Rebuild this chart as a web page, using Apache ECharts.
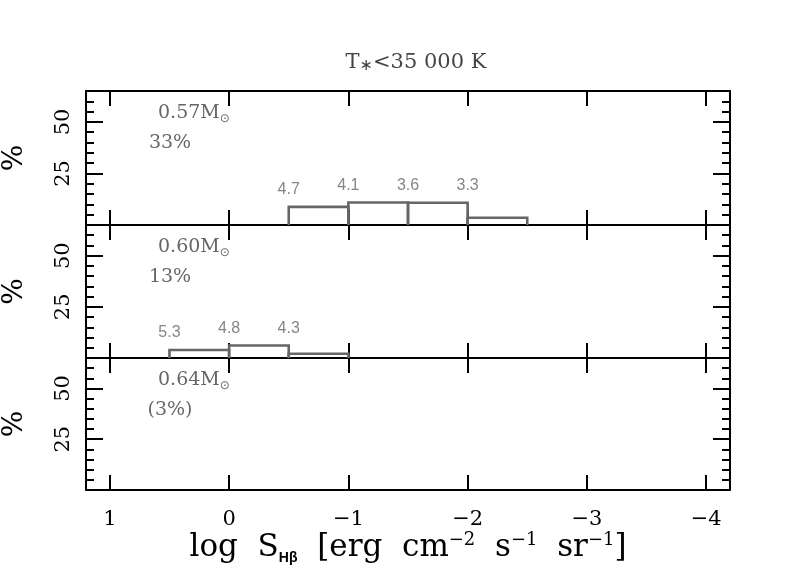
<!DOCTYPE html>
<html>
<head>
<meta charset="utf-8">
<script src="https://cdn.jsdelivr.net/npm/echarts@6/dist/echarts.min.js"></script>
<style>
  html, body { margin: 0; padding: 0; background: #fff; }
  #main { width: 797px; height: 575px; }
</style>
</head>
<body>
<div id="main"></div>
<script>
// 0.57 Msun 面板：bin 边界、百分比、bin 平均值
var edges57 = [-0.5, -1, -1.5, -2, -2.5];
var pct57 = [8.8, 10.9, 10.8, 3.5];
var mean57 = ['4.7', '4.1', '3.6', '3.3'];

// 0.60 Msun 面板
var edges60 = [0.5, 0, -0.5, -1];
var pct60 = [3.9, 6.1, 2.1];
var mean60 = ['5.3', '4.8', '4.3'];

// 0.64 Msun 面板（空）
var edges64 = [];
var pct64 = [];
var mean64 = [];

var massLabels = ['0.57', '0.60', '0.64'];
var shareLabels = ['33%', '13%', '(3%)'];
var yTickLabels = [25, 50];

var panels = [
  { edges: edges57, pct: pct57, mean: mean57 },
  { edges: edges60, pct: pct60, mean: mean60 },
  { edges: edges64, pct: pct64, mean: mean64 }
];

var SERIF = '"DejaVu Serif", "Liberation Serif", serif';
var SANS = '"Liberation Sans", "DejaVu Sans", sans-serif';
var GREY = '#666';

var gridTops = [91, 225, 358];
var gridHeights = [134, 133, 132];

function minus(v) {
  return String(v).replace('-', '\u2212');
}

// 画直方图的轮廓
function renderBins(params, api) {
  var x0 = api.value(0), x1 = api.value(1), h = api.value(2);
  var a = api.coord([x0, 0]);
  var b = api.coord([x1, h]);
  return {
    type: 'polyline',
    shape: { points: [[a[0], a[1]], [a[0], b[1]], [b[0], b[1]], [b[0], a[1]]] },
    style: { fill: null, stroke: GREY, lineWidth: 2.6 }
  };
}

var grid = [], xAxis = [], yAxis = [], series = [], graphic = [];

panels.forEach(function (p, i) {
  grid.push({ left: 86, right: 67, top: gridTops[i], height: gridHeights[i], outerBoundsMode: 'none', containLabel: false });

  var last = i === panels.length - 1;
  ['bottom', 'top'].forEach(function (pos) {
    var ax = {
      gridIndex: i,
      type: 'value',
      position: pos,
      min: -4.2,
      max: 1.2,
      minInterval: 1,
      maxInterval: 1,
      inverse: true,
      axisLine: { show: true, onZero: false, lineStyle: { color: '#000', width: 2 } },
      axisTick: { show: true, inside: true, length: 15, lineStyle: { color: '#000', width: 2 } },
      splitLine: { show: false },
      axisLabel: { show: false }
    };
    if (last && pos === 'bottom') {
      ax.axisLabel = {
        show: true,
        margin: 19,
        color: '#000',
        fontSize: 21,
        fontFamily: SERIF,
        showMinLabel: false,
        showMaxLabel: false,
        formatter: function (v) {
          return Math.abs(v - Math.round(v)) < 1e-6 ? minus(Math.round(v)) : '';
        }
      };
      ax.name = '{t|log  S}{sub|H\u03b2}{t|  [erg  cm}{sup|\u22122}{t|  s}{sup|\u22121}{t|  sr}{sup|\u22121}{t|]}';
      ax.nameLocation = 'middle';
      ax.nameGap = 37;
      ax.nameTextStyle = {
        rich: {
          t: { fontSize: 31, fontFamily: SERIF, color: '#000', lineHeight: 34 },
          sub: { fontSize: 14, fontFamily: SANS, fontWeight: 'bold', color: '#000', verticalAlign: 'bottom', lineHeight: 8 },
          sup: { fontSize: 18, fontFamily: SERIF, color: '#000', verticalAlign: 'top', lineHeight: 16 }
        }
      };
    }
    xAxis.push(ax);
  });

  // 左右两侧：大刻度(25) 和 小刻度(5)
  ['left', 'right'].forEach(function (pos) {
    yAxis.push({
      gridIndex: i,
      type: 'value',
      position: pos,
      min: 0,
      max: 65,
      interval: 25,
      axisLine: { show: true, onZero: false, lineStyle: { color: '#000', width: 2 } },
      axisTick: { show: true, inside: true, length: 17, lineStyle: { color: '#000', width: 2 } },
      splitLine: { show: false },
      axisLabel: pos === 'left' ? {
        show: true,
        rotate: 90,
        margin: 12,
        color: '#000',
        fontSize: 21,
        fontFamily: SERIF,
        formatter: function (v) { return yTickLabels.indexOf(v) >= 0 ? String(v) : ''; }
      } : { show: false },
      name: pos === 'left' ? '%' : '',
      nameLocation: 'middle',
      nameRotate: 90,
      nameGap: 57,
      nameTextStyle: { fontSize: 28, fontFamily: SERIF, color: '#000' }
    });
    yAxis.push({
      gridIndex: i,
      type: 'value',
      position: pos,
      min: 0,
      max: 65,
      interval: 5,
      axisLine: { show: false, onZero: false },
      axisTick: { show: true, inside: true, length: 8, lineStyle: { color: '#000', width: 2 } },
      splitLine: { show: false },
      axisLabel: { show: false }
    });
  });

  var bins = [];
  var marks = [];
  for (var k = 0; k < p.pct.length; k++) {
    bins.push([p.edges[k], p.edges[k + 1], p.pct[k]]);
    var prev = k > 0 ? p.pct[k - 1] : 0;
    marks.push([p.edges[k], Math.max(prev, p.pct[k])]);
  }

  series.push({
    type: 'custom',
    xAxisIndex: i * 2,
    yAxisIndex: i * 4,
    renderItem: renderBins,
    data: bins,
    silent: true
  });
  series.push({
    type: 'scatter',
    xAxisIndex: i * 2,
    yAxisIndex: i * 4,
    symbolSize: 0,
    data: marks,
    silent: true,
    label: {
      show: true,
      position: 'top',
      distance: 9,
      color: GREY,
      fontSize: 16,
      fontFamily: SANS,
      formatter: (function (m) { return function (q) { return m[q.dataIndex]; }; })(p.mean)
    }
  });

  // 面板里的质量和比例文字
  graphic.push({
    type: 'text',
    left: 158,
    top: gridTops[i] + 13,
    style: {
      text: '{a|' + massLabels[i] + 'M}{s|\u2299}',
      rich: {
        a: { fontSize: 19, fontFamily: SERIF, fill: GREY, lineHeight: 22 },
        s: { fontSize: 12, fontFamily: '"DejaVu Sans", sans-serif', fill: GREY, verticalAlign: 'bottom', lineHeight: 8 }
      }
    }
  });
  graphic.push({
    type: 'text',
    x: 170,
    y: gridTops[i] + 52,
    style: {
      text: shareLabels[i],
      fontSize: 19,
      fontFamily: SERIF,
      fill: GREY,
      align: 'center',
      verticalAlign: 'middle'
    }
  });
});

graphic.push({
  type: 'text',
  x: 416,
  y: 63,
  style: {
    text: '{a|T}{s|\u2217}{a|<35 000 K}',
    align: 'center',
    verticalAlign: 'middle',
    rich: {
      a: { fontSize: 21, fontFamily: SERIF, fill: '#444', lineHeight: 22 },
      s: { fontSize: 16, fontFamily: '"DejaVu Sans", sans-serif', fill: '#444', verticalAlign: 'bottom', lineHeight: 6 }
    }
  }
});

var chart = echarts.init(document.getElementById('main'), null, { renderer: 'canvas' });
chart.setOption({
  animation: false,
  backgroundColor: '#fff',
  grid: grid,
  xAxis: xAxis,
  yAxis: yAxis,
  series: series,
  graphic: graphic
});
</script>
</body>
</html>
